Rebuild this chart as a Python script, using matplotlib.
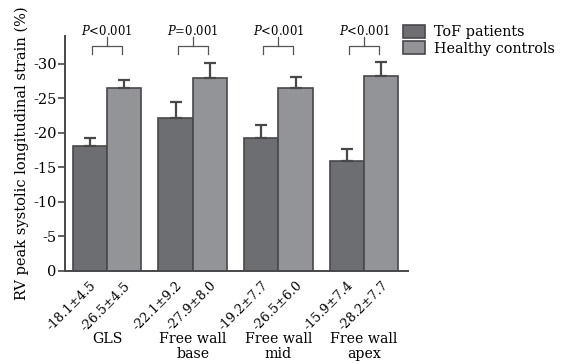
import matplotlib
matplotlib.use("Agg")
import matplotlib.pyplot as plt
import numpy as np

# RV peak systolic longitudinal strain (magnitude, %) by segment
segments = ["GLS", "Free wall\nbase", "Free wall\nmid", "Free wall\napex"]
tof_mean = [18.1, 22.1, 19.2, 15.9]
tof_err = [1.2, 2.3, 1.9, 1.8]
hc_mean = [26.5, 27.9, 26.5, 28.2]
hc_err = [1.2, 2.2, 1.6, 2.1]
tof_labels = ["-18.1±4.5", "-22.1±9.2", "-19.2±7.7", "-15.9±7.4"]
hc_labels = ["-26.5±4.5", "-27.9±8.0", "-26.5±6.0", "-28.2±7.7"]
p_values = ["<0.001", "=0.001", "<0.001", "<0.001"]
yticks = [0, 5, 10, 15, 20, 25, 30]

plt.rcParams["font.family"] = ["DejaVu Serif"]
plt.rcParams["mathtext.fontset"] = "dejavuserif"

TOF_COLOR = "#6d6e72"
HC_COLOR = "#939497"
EDGE = "#48484a"

fig = plt.figure(figsize=(5.63, 3.64), dpi=100)
ax = fig.add_axes([0.1155, 0.256, 0.609, 0.645])

x = np.arange(len(segments))
w = 0.4
err_kw = dict(ecolor=EDGE, elinewidth=1.6, capsize=4.5, capthick=1.6)
ax.bar(x - w / 2, tof_mean, w, color=TOF_COLOR, edgecolor=EDGE, linewidth=1.2,
       yerr=[np.zeros(len(tof_err)), tof_err], error_kw=err_kw, label="ToF patients")
ax.bar(x + w / 2, hc_mean, w, color=HC_COLOR, edgecolor=EDGE, linewidth=1.2,
       yerr=[np.zeros(len(hc_err)), hc_err], error_kw=err_kw, label="Healthy controls")

ax.set_xlim(-0.49, 3.51)
ax.set_ylim(0, 34)
ax.set_yticks(yticks)
ax.set_yticklabels(["0" if t == 0 else f"-{t}" for t in yticks], fontsize=10.5)
ax.tick_params(axis="y", length=5, width=1.2, color=EDGE, pad=1)
ax.spines["top"].set_visible(False)
ax.spines["right"].set_visible(False)
for s in ("left", "bottom"):
    ax.spines[s].set_linewidth(1.4)
    ax.spines[s].set_color(EDGE)

# rotated value labels under each bar
pos = np.concatenate([x - w / 2, x + w / 2])
labs = tof_labels + hc_labels
ax.set_xticks(pos)
ax.set_xticklabels(labs, rotation=45, ha="right", rotation_mode="anchor", fontsize=9.2)
ax.tick_params(axis="x", length=0, pad=6)

for xi, name in zip(x, segments):
    ax.text(xi, -0.262, name, transform=ax.get_xaxis_transform(), ha="center",
            va="top", fontsize=10.2, linespacing=1.02)

# significance brackets
for xi, p in zip(x, p_values):
    bx0, bx1 = xi - 0.175, xi + 0.175
    ax.plot([bx0, bx0, bx1, bx1], [31.4, 32.5, 32.5, 31.4], color="#555555",
            lw=0.9, clip_on=False)
    ax.plot([xi, xi], [32.5, 33.9], color="#555555", lw=0.9, clip_on=False)
    ax.text(xi, 34.8, f"$P${p}", ha="center", va="center", fontsize=8.4,
            clip_on=False)

ax.set_ylabel("RV peak systolic longitudinal strain (%)", fontsize=10.5, labelpad=3)

fig.legend(loc="upper left", bbox_to_anchor=(0.706, 0.948), frameon=False,
           fontsize=10.4, handlelength=1.5, handleheight=1.0, handletextpad=0.6,
           labelspacing=0.15, borderaxespad=0)

fig.savefig("out.png", dpi=100)
